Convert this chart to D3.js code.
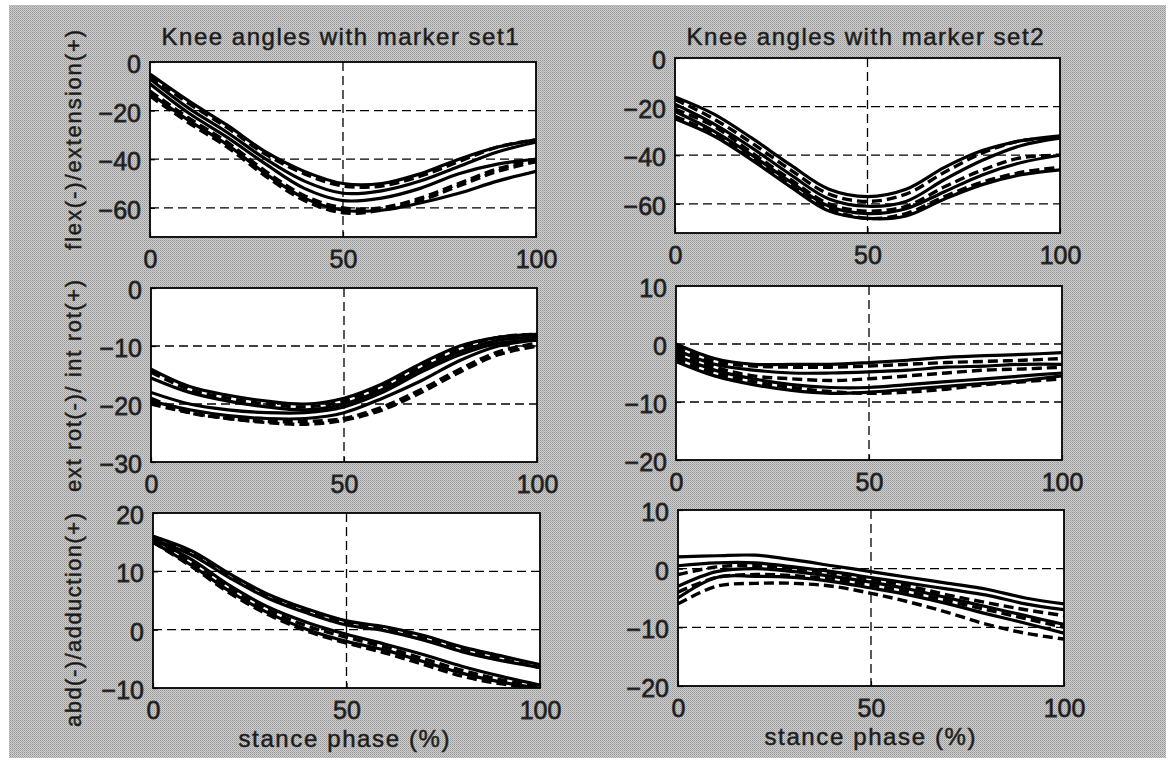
<!DOCTYPE html>
<html>
<head>
<meta charset="utf-8">
<script src="https://cdn.jsdelivr.net/npm/d3@7/dist/d3.min.js"></script>
<style>
  html, body { margin: 0; padding: 0; background: #ffffff; }
  svg { display: block; }
  text { font-family: "Liberation Sans", Arial, Helvetica, sans-serif; fill: #161616; }
</style>
</head>
<body>
<svg id="chart" width="1171" height="760"></svg>
<script>
// ---------------- DATA ----------------
const phase = [0, 10, 20, 30, 40, 50, 60, 70, 80, 90, 100];
const xTicks = [0, 50, 100];

const titles = ["Knee angles with marker set1", "Knee angles with marker set2"];
const yLabels = ["flex(-)/extension(+)", "ext rot(-)/ int rot(+)", "abd(-)/adduction(+)"];
const xLabel = "stance phase (%)";

const yTicksFlex = [0, -20, -40, -60];
const yTicksRot1 = [0, -10, -20, -30];
const yTicksRot2 = [10, 0, -10, -20];
const yTicksAbd1 = [20, 10, 0, -10];
const yTicksAbd2 = [10, 0, -10, -20];

// Flexion / extension, marker set 1
const flex1Solid = [
  [-5, -16, -26, -37, -45, -50, -50, -46, -40, -35, -32],
  [-7, -19, -29, -40, -49, -54, -53, -49, -43, -37, -33],
  [-9, -21, -31, -42, -52, -57, -56, -52, -46, -42, -40],
  [-13, -24, -34, -46, -56, -61, -61, -58, -54, -49, -45]
];
const flex1Dashed = [
  [-6, -17, -27, -38, -46, -51, -51, -47, -41, -35, -32],
  [-12, -23, -33, -45, -55, -60, -60, -56, -50, -44, -40],
  [-14, -25, -35, -47, -57, -62, -61, -57, -51, -45, -41]
];
// Flexion / extension, marker set 2
const flex2Solid = [
  [-16, -23, -33, -44, -54, -57, -54, -45, -38, -34, -32],
  [-19, -27, -37, -48, -58, -61, -59, -50, -42, -36, -33],
  [-22, -30, -40, -51, -61, -64, -62, -55, -48, -43, -40],
  [-25, -32, -42, -53, -63, -66, -65, -58, -52, -48, -46]
];
const flex2Dashed = [
  [-17, -25, -35, -46, -56, -59, -56, -47, -39, -34, -33],
  [-21, -28, -39, -50, -60, -63, -61, -53, -46, -41, -40],
  [-24, -31, -41, -52, -62, -66, -64, -57, -51, -47, -45]
];
// Rotation, marker set 1
const rot1Solid = [
  [-14, -17, -18.5, -19.5, -20, -19, -16.5, -13, -10, -8.5, -8],
  [-15.5, -18, -19.5, -20.5, -21, -20, -17.5, -14, -11, -9, -8.5],
  [-18, -20, -21, -21.5, -21.5, -20.5, -18, -14.5, -11.5, -9.5, -9],
  [-19.5, -21, -22, -22.5, -22.5, -21.5, -19, -16, -12.5, -10, -9]
];
const rot1Dashed = [
  [-14.5, -17.5, -19, -20, -20.5, -19.5, -17, -13.5, -10.5, -8.5, -8],
  [-19, -21.5, -22.5, -23, -23, -22.5, -20.5, -17.5, -14, -11, -9.5],
  [-20, -21.5, -22.5, -23.2, -23.5, -22.8, -21, -18, -14.5, -11.5, -10]
];
// Rotation, marker set 2
const rot2Solid = [
  [0, -2.5, -3.5, -3.5, -3.5, -3.2, -2.8, -2.3, -2, -1.8, -1.5],
  [-1, -3.5, -4.5, -5, -5, -4.8, -4.5, -4, -3.8, -3.5, -3.5],
  [-2, -4.5, -6, -7, -7.5, -7.5, -7, -6.5, -6, -5.5, -5],
  [-3, -5.5, -7, -8, -8.5, -8.3, -7.8, -7.3, -6.8, -6.3, -5.5]
];
const rot2Dashed = [
  [-0.5, -3, -3.8, -4, -4, -3.8, -3.5, -3.2, -3, -2.8, -2.5],
  [-1.5, -4, -5.5, -6, -6.3, -6, -5.5, -5, -4.5, -4.3, -4],
  [-2.5, -5, -6.5, -7.5, -8.2, -8.5, -8.3, -7.8, -7, -6.5, -6]
];
// Ab/adduction, marker set 1
const abd1Solid = [
  [16, 13.5, 9.5, 6, 3.5, 1.5, 0.5, -1, -3, -4.5, -6],
  [15.5, 12.8, 8.8, 5.3, 2.8, 0.8, -0.2, -1.8, -3.8, -5.3, -6.5],
  [15.5, 12, 7.5, 3.8, 1.2, -0.8, -2.5, -4.3, -6.3, -8, -9.5],
  [15, 11, 6.5, 2.8, 0, -2, -3.5, -5.5, -7.5, -9, -10]
];
const abd1Dashed = [
  [16, 13.2, 9.2, 5.7, 3.2, 1.2, 0.2, -1.3, -3.3, -5, -6.5],
  [15.5, 11.5, 7, 3.3, 0.6, -1.3, -3, -5, -7, -8.6, -9.8],
  [15, 10.8, 6.2, 2.5, -0.3, -2.3, -4, -6, -8, -9.3, -10]
];
// Ab/adduction, marker set 2
const abd2Solid = [
  [2, 2.2, 2.3, 1.5, 0.5, -0.5, -1.5, -2.5, -3.5, -5, -6],
  [0.5, 1, 1, 0.3, -0.5, -1.5, -2.5, -3.5, -4.5, -6, -7],
  [-3, -0.5, 0, -0.5, -1.3, -2.3, -3.5, -5, -6.5, -8, -9.5],
  [-5, -1.5, -1.3, -1.5, -2.2, -3.3, -4.5, -6, -7.7, -9.3, -11]
];
const abd2Dashed = [
  [-1, 0.3, 0.5, 0, -0.8, -1.8, -3, -4.5, -5.8, -7, -8],
  [-4, -1.5, -1, -1.2, -1.8, -2.8, -4, -5.5, -7, -8.5, -10],
  [-6, -3, -2.5, -2.5, -3, -4.2, -5.7, -7.5, -9.5, -11, -12]
];

// ---------------- LAYOUT ----------------
const W = 1171, H = 760;
const svg = d3.select("#chart");
const defs = svg.append("defs");

// dithered grey background
const pat = defs.append("pattern").attr("id", "dither")
  .attr("width", 2).attr("height", 2).attr("patternUnits", "userSpaceOnUse");
pat.append("rect").attr("width", 2).attr("height", 2).attr("fill", "#cfcfcf");
pat.append("rect").attr("x", 0).attr("y", 0).attr("width", 1).attr("height", 1).attr("fill", "#959595");
pat.append("rect").attr("x", 1).attr("y", 1).attr("width", 1).attr("height", 1).attr("fill", "#ababab");

svg.append("rect").attr("width", W).attr("height", H).attr("fill", "#ffffff");
svg.append("rect").attr("x", 9).attr("y", 5).attr("width", 1157).attr("height", 753)
  .attr("fill", "url(#dither)").attr("shape-rendering", "crispEdges");

const panels = [
  { box: {l: 150, r: 536, t: 62, b: 237}, dom: [-72, 0], ticks: yTicksFlex, solid: flex1Solid, dashed: flex1Dashed },
  { box: {l: 675, r: 1060, t: 58, b: 233}, dom: [-72, 0], ticks: yTicksFlex, solid: flex2Solid, dashed: flex2Dashed },
  { box: {l: 151, r: 537, t: 288, b: 462}, dom: [-30, 0], ticks: yTicksRot1, solid: rot1Solid, dashed: rot1Dashed },
  { box: {l: 676, r: 1062, t: 286, b: 460}, dom: [-20, 10], ticks: yTicksRot2, solid: rot2Solid, dashed: rot2Dashed },
  { box: {l: 153, r: 540, t: 513, b: 688}, dom: [-10, 20], ticks: yTicksAbd1, solid: abd1Solid, dashed: abd1Dashed },
  { box: {l: 678, r: 1064, t: 510, b: 686}, dom: [-20, 10], ticks: yTicksAbd2, solid: abd2Solid, dashed: abd2Dashed }
];

panels.forEach((p, i) => {
  const b = p.box;
  const x = d3.scaleLinear().domain([0, 100]).range([b.l, b.r]);
  const y = d3.scaleLinear().domain(p.dom).range([b.b, b.t]);
  const g = svg.append("g");

  defs.append("clipPath").attr("id", "clip" + i)
    .append("rect").attr("x", b.l).attr("y", b.t).attr("width", b.r - b.l).attr("height", b.b - b.t);

  g.append("rect").attr("x", b.l).attr("y", b.t).attr("width", b.r - b.l).attr("height", b.b - b.t)
    .attr("fill", "#ffffff");

  // grid (dashed)
  const yGrid = p.ticks.filter(v => v > p.dom[0] && v < p.dom[1]);
  g.selectAll(".gy").data(yGrid).join("line")
    .attr("x1", b.l).attr("x2", b.r).attr("y1", d => y(d)).attr("y2", d => y(d))
    .attr("stroke", "#000").attr("stroke-width", 1.3).attr("stroke-dasharray", "9,5");
  g.selectAll(".gx").data(xTicks.filter(v => v > 0 && v < 100)).join("line")
    .attr("y1", b.t).attr("y2", b.b).attr("x1", d => x(d)).attr("x2", d => x(d))
    .attr("stroke", "#000").attr("stroke-width", 1.3).attr("stroke-dasharray", "9,5");

  // curves
  const line = d3.line().x((d, k) => x(phase[k])).y(d => y(d)).curve(d3.curveCatmullRom.alpha(0.5));
  const cg = g.append("g").attr("clip-path", "url(#clip" + i + ")");
  cg.selectAll(".s").data(p.solid).join("path")
    .attr("d", line).attr("fill", "none").attr("stroke", "#000").attr("stroke-width", 3.2)
    .attr("stroke-linejoin", "round");
  cg.selectAll(".d").data(p.dashed).join("path")
    .attr("d", line).attr("fill", "none").attr("stroke", "#000").attr("stroke-width", 3.4)
    .attr("stroke-dasharray", "10,5");

  // axes via d3 axis generators (ticks inside, labels styled)
  const yAxis = d3.axisLeft(y).tickValues(p.ticks).tickSize(-5).tickPadding(9).tickFormat(d3.format("d"));
  const xAxis = d3.axisBottom(x).tickValues(xTicks).tickSize(-5).tickPadding(11).tickFormat(d3.format("d"));
  const ya = g.append("g").attr("transform", `translate(${b.l},0)`).call(yAxis);
  const xa = g.append("g").attr("transform", `translate(0,${b.b})`).call(xAxis);
  [ya, xa].forEach(a => {
    a.select(".domain").remove();
    a.selectAll("line").attr("stroke", "#000").attr("stroke-width", 1.2);
    a.selectAll("text").attr("font-size", 25).attr("fill", "#111")
      .attr("font-family", "'Liberation Sans', Arial, sans-serif")
      .attr("stroke", "#333").attr("stroke-width", 0.8);
  });
  ya.selectAll("text").attr("dy", "0.42em");
  xa.selectAll("text").attr("dy", "0.78em");

  // box
  g.append("rect").attr("x", b.l).attr("y", b.t).attr("width", b.r - b.l).attr("height", b.b - b.t)
    .attr("fill", "none").attr("stroke", "#000").attr("stroke-width", 1.8);
});

// titles
const titlePos = [340, 865];
titles.forEach((t, i) => {
  svg.append("text").attr("x", titlePos[i]).attr("y", 45).attr("text-anchor", "middle")
    .attr("font-size", 24).attr("textLength", 357).attr("lengthAdjust", "spacing")
    .attr("stroke", "#333").attr("stroke-width", 0.6)
    .text(t);
});

// y labels
const yLabelPos = [{cy: 140, len: 220}, {cy: 386, len: 212}, {cy: 620, len: 214}];
yLabels.forEach((t, i) => {
  svg.append("text").attr("transform", `translate(81,${yLabelPos[i].cy}) rotate(-90)`)
    .attr("text-anchor", "middle").attr("font-size", 22)
    .attr("textLength", yLabelPos[i].len).attr("lengthAdjust", "spacing")
    .attr("stroke", "#333").attr("stroke-width", 0.6)
    .text(t);
});

// x labels
[{cx: 344, y: 747}, {cx: 870, y: 745}].forEach(pp => {
  svg.append("text").attr("x", pp.cx).attr("y", pp.y).attr("text-anchor", "middle")
    .attr("font-size", 24).attr("textLength", 211).attr("lengthAdjust", "spacing")
    .attr("stroke", "#333").attr("stroke-width", 0.6)
    .text(xLabel);
});
</script>
</body>
</html>
